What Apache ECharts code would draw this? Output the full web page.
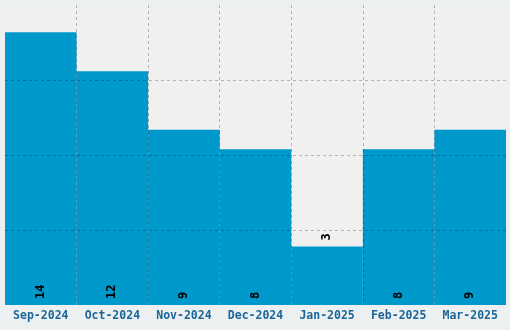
<!DOCTYPE html>
<html><head><meta charset="utf-8">
<script src="https://cdn.jsdelivr.net/npm/echarts@6/dist/echarts.min.js"></script>
<style>html,body{margin:0;padding:0;background:#edf0f0;}#c{width:510px;height:330px;}</style>
</head><body><div id="c"></div>
<script>
const categories = ["Sep-2024","Oct-2024","Nov-2024","Dec-2024","Jan-2025","Feb-2025","Mar-2025"];
const values = [14, 12, 9, 8, 3, 8, 9];
const yMax = 15.4;
const yInterval = 3.85;

const chart = echarts.init(document.getElementById('c'), null, {renderer:'canvas'});
const fontFam = '"DejaVu Sans Mono", "Liberation Mono", monospace';
chart.setOption({
  backgroundColor: '#edf0f0',
  animation: false,
  grid: {left: 5, right: 4, top: 5, bottom: 25, show: true, backgroundColor: '#f0f0f0', borderWidth: 0},
  xAxis: {
    type: 'category', data: categories, z: 5,
    axisLine: {show: false}, axisTick: {show: false},
    axisLabel: {interval: 0, color: '#1a6699', fontFamily: fontFam, fontWeight: 'bold', fontSize: 11.5, margin: 5},
    splitLine: {show: true, interval: 0, showMinLine: false, showMaxLine: false, lineStyle: {color: 'rgba(0,0,0,0.25)', type: [3,3], width: 1}}
  },
  yAxis: {
    type: 'value', min: 0, max: yMax, interval: yInterval, z: 5,
    axisLine: {show: false}, axisTick: {show: false}, axisLabel: {show: false},
    splitLine: {show: true, showMinLine: false, showMaxLine: false, lineStyle: {color: 'rgba(0,0,0,0.25)', type: [3,3], width: 1}}
  },
  series: [{
    type: 'bar',
    data: values.map(v => v < 5 ? {value: v, label: {position: 'top', rotate: 90, align: 'left', verticalAlign: 'middle', distance: 6}} : v),
    barWidth: '100%', barCategoryGap: 0,
    itemStyle: {color: '#0099cc'},
    label: {show: true, position: 'insideBottom', rotate: 90, align: 'left', verticalAlign: 'middle', distance: 6,
      color: '#000', fontFamily: fontFam, fontWeight: 'bold', fontSize: 12}
  }]
});
</script></body></html>
